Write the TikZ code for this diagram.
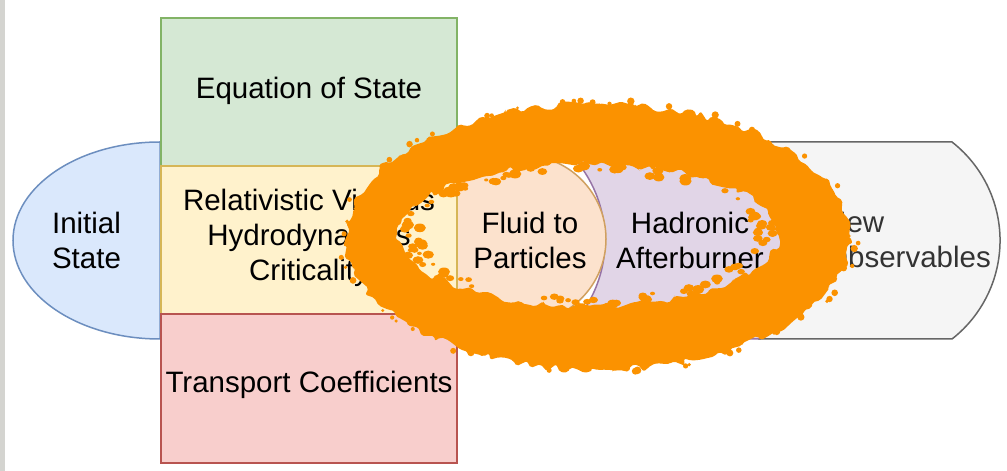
\documentclass[tikz,border=0pt]{standalone}
\usepackage{fontspec}
\setmainfont{Liberation Sans}
\usetikzlibrary{decorations.pathmorphing}
\definecolor{blueF}{HTML}{DAE8FC}\definecolor{blueS}{HTML}{6C8EBF}
\definecolor{greenF}{HTML}{D5E8D4}\definecolor{greenS}{HTML}{82B366}
\definecolor{yellowF}{HTML}{FFF2CC}\definecolor{yellowS}{HTML}{D6B656}
\definecolor{redF}{HTML}{F8CECC}\definecolor{redS}{HTML}{B85450}
\definecolor{peachF}{HTML}{FCE2CD}\definecolor{peachS}{HTML}{D0A060}
\definecolor{purpleF}{HTML}{E1D5E7}\definecolor{purpleS}{HTML}{9673A6}
\definecolor{grayF}{HTML}{F5F5F5}\definecolor{grayS}{HTML}{666666}
\definecolor{grayT}{HTML}{333333}
\definecolor{stripgray}{HTML}{D4D4D0}
\definecolor{ringcol}{RGB}{251,146,0}
\begin{document}
\begin{tikzpicture}[x=1pt,y=1pt,
  lbl/.style={font=\fontsize{29.5}{35}\selectfont, align=center, inner sep=0pt},
  shp/.style={line width=1.5pt},
  ring/.style={fill=ringcol}]
\useasboundingbox (0,0) rectangle (1007,471);
\fill[white] (0,0) rectangle (1007,471);
\fill[stripgray] (0,0) rectangle (5,471);

% Initial state (half ellipse, behind the boxes)
\draw[shp, fill=blueF, draw=blueS] (160,329) arc[start angle=90, end angle=270, x radius=147, y radius=98.5] -- cycle;

% Hadronic afterburner (purple)
\draw[shp, fill=purpleF, draw=purpleS] (557,329) -- (760,329)
  arc[start angle=52, end angle=-52, radius=125] -- (557,132)
  arc[start angle=-52, end angle=52, radius=125] -- cycle;
% New observables (gray)
\draw[shp, fill=grayF, draw=grayS] (760,329) -- (952,329)
  arc[start angle=52, end angle=-52, radius=125] -- (760,132)
  arc[start angle=-52, end angle=52, radius=125] -- cycle;
% Fluid to particles (circle)
\draw[shp, fill=peachF, draw=peachS] (522,232) circle[radius=84];

% stacked boxes
\draw[shp, fill=greenF, draw=greenS] (161,305) rectangle (457,453);
\draw[shp, fill=yellowF, draw=yellowS] (161,157) rectangle (457,305);
\draw[shp, fill=redF, draw=redS] (161,8) rectangle (457,157);

% labels
\node[lbl] (init) at (86.5,231) {Initial\\State};
\node[lbl] (eos) at (309,380) {Equation of State};
\node[lbl] (hydro) at (309,233) {Relativistic Viscous\\Hydrodynamics\\Criticality};
\node[lbl] (trans) at (309,86) {Transport Coefficients};
\node[lbl] (fluid) at (530,231) {Fluid to\\Particles};
\node[lbl] (hadr) at (690,231) {Hadronic\\Afterburner};
\node[lbl, align=left, anchor=west, text=grayT] (newobs) at (825,231) {New\\Observables};

% orange scribble ring
\pgfmathsetseed{7}
\fill[ring, even odd rule, decorate, decoration={random steps, segment length=6pt, amplitude=4pt}, rounded corners=2pt]
  (598,234) ellipse[x radius=252, y radius=133]
  (588,236) ellipse[x radius=190, y radius=71];
\foreach \i in {1,...,110}{
  \pgfmathsetmacro\myang{rnd*360}
  \pgfmathsetmacro\myf{0.88+0.11*rnd}
  \pgfmathsetmacro\myr{1.5+3*rnd}
  \fill[ring] ({588+190*\myf*cos(\myang)},{236+71*\myf*sin(\myang)}) ellipse[x radius=1.4*\myr, y radius=\myr];
}
\foreach \i in {1,...,50}{
  \pgfmathsetmacro\myang{rnd*360}
  \pgfmathsetmacro\myf{1.0+0.035*rnd}
  \pgfmathsetmacro\myr{1.5+2.5*rnd}
  \fill[ring] ({598+252*\myf*cos(\myang)},{234+133*\myf*sin(\myang)}) circle[radius=\myr];
}
\end{tikzpicture}
\end{document}
